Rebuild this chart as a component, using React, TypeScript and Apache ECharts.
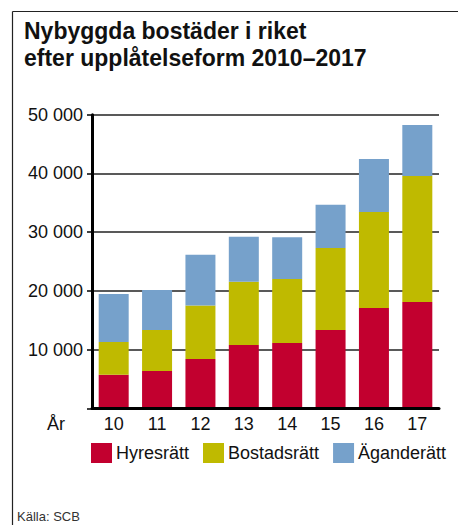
import React, { useEffect, useRef } from "react";
import * as echarts from "echarts";

const titleLines = ["Nybyggda bostäder i riket", "efter upplåtelseform 2010–2017"];
const years = ["10", "11", "12", "13", "14", "15", "16", "17"];
const hyresratt = [5700, 6350, 8400, 10800, 11100, 13350, 17100, 18100];
const bostadsratt = [5600, 7000, 9100, 10750, 10900, 13950, 16350, 21450];
const aganderatt = [8150, 6800, 8650, 7650, 7150, 7350, 9000, 8700];
const seriesNames = ["Hyresrätt", "Bostadsrätt", "Äganderätt"];
const colors = ["#c2002f", "#bfba00", "#76a1cb"];
const yMin = 0;
const yMax = 50000;
const yInterval = 10000;
const source = "Källa: SCB";
const xAxisTitle = "År";

const FONT = "'Liberation Sans', Arial, Helvetica, sans-serif";

function fmt(v: number): string {
  if (v === 0) return "";
  const s = String(v);
  return s.replace(/\B(?=(\d{3})+(?!\d))/g, " ");
}

export default function App() {
  const ref = useRef<HTMLDivElement>(null);
  useEffect(() => {
    if (!ref.current) return;
    const chart = echarts.init(ref.current, undefined, { renderer: "svg" });
    const data = [hyresratt, bostadsratt, aganderatt];
    chart.setOption({
      animation: false,
      backgroundColor: "#ffffff",
      textStyle: { fontFamily: FONT },
      grid: { left: 92, right: 19, top: 114.7, bottom: 116.7, containLabel: false },
      legend: {
        left: 91,
        top: 443,
        itemWidth: 21,
        itemHeight: 20,
        itemGap: 14,
        icon: "rect",
        padding: 0,
        textStyle: { fontSize: 18, color: "#111", fontFamily: FONT, padding: [0, 0, 0, -1] },
        data: seriesNames,
      },
      xAxis: {
        type: "category",
        data: years,
        boundaryGap: true,
        axisLine: { show: true, lineStyle: { color: "#000", width: 3 } },
        axisTick: { show: false },
        axisLabel: { fontSize: 18, color: "#111", margin: 7, fontFamily: FONT },
        splitLine: { show: false },
        z: 10,
      },
      yAxis: {
        type: "value",
        min: yMin,
        max: yMax,
        interval: yInterval,
        axisLine: { show: true, lineStyle: { color: "#000", width: 3 } },
        axisTick: { show: true, length: 5, lineStyle: { color: "#000", width: 1.5 } },
        axisLabel: { fontSize: 18, color: "#111", margin: 9, fontFamily: FONT, formatter: fmt },
        splitLine: { show: true, lineStyle: { color: "#222", width: 1.5 } },
      },
      series: seriesNames.map((name, i) => ({
        name,
        type: "bar",
        stack: "total",
        data: data[i],
        barWidth: 30,
        itemStyle: { color: colors[i] },
        emphasis: { disabled: true },
        z: 2,
      })),
      graphic: [
        {
          type: "line",
          shape: { x1: 12.5, y1: 11.5, x2: 458, y2: 11.5 },
          style: { stroke: "#222", lineWidth: 1.2 },
        },
        {
          type: "line",
          shape: { x1: 12.5, y1: 11.5, x2: 12.5, y2: 525 },
          style: { stroke: "#222", lineWidth: 1.2 },
        },
        {
          type: "text",
          x: 24,
          y: 31,
          style: {
            text: titleLines[0],
            font: `bold 23px ${FONT}`,
            fill: "#111",
            verticalAlign: "middle",
          },
        },
        {
          type: "text",
          x: 24,
          y: 58,
          style: {
            text: titleLines[1],
            font: `bold 23px ${FONT}`,
            fill: "#111",
            verticalAlign: "middle",
          },
        },
        {
          type: "text",
          x: 47,
          y: 424,
          style: {
            text: xAxisTitle,
            font: `18px ${FONT}`,
            fill: "#111",
            verticalAlign: "middle",
          },
        },
        {
          type: "text",
          x: 17,
          y: 510,
          style: {
            text: source,
            font: `13px ${FONT}`,
            fill: "#333",
            verticalAlign: "top",
          },
        },
      ],
    });
    return () => chart.dispose();
  }, []);
  return (
    <div
      ref={ref}
      style={{ position: "fixed", left: 0, top: 0, width: 458, height: 525 }}
    />
  );
}
